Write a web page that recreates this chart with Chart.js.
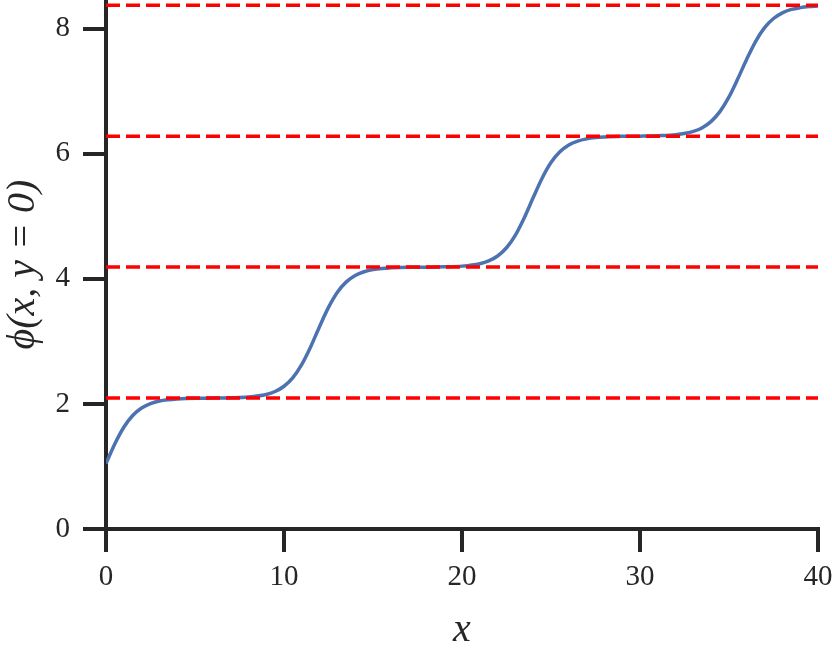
<!DOCTYPE html>
<html>
<head>
<meta charset="utf-8">
<script src="https://cdn.jsdelivr.net/npm/chart.js@4/dist/chart.umd.min.js"></script>
<style>
  html, body { margin: 0; padding: 0; background: #ffffff; }
  #wrap { width: 832px; height: 648px; }
</style>
</head>
<body>
<div id="wrap"><canvas id="c" width="832" height="648"></canvas></div>
<script>
// ---- data ----
const xValues = [0,0.5,1,1.5,2,2.5,3,3.5,4,4.5,5,6,7,8,9,9.5,10,10.5,11,11.5,12,12.5,13,13.5,14,14.5,15,15.5,16,17,18,19,20,21,21.5,22,22.5,23,23.5,24,24.5,25,25.5,26,26.5,27,27.5,28,29,30,31,32,33,33.5,34,34.5,35,35.5,36,36.5,37,37.5,38,38.5,39,39.5,40];
const phiValues = [1.047,1.364,1.628,1.816,1.935,2.006,2.047,2.068,2.080,2.087,2.091,2.094,2.099,2.111,2.152,2.199,2.283,2.421,2.632,2.915,3.239,3.544,3.786,3.952,4.055,4.114,4.148,4.167,4.176,4.186,4.188,4.193,4.204,4.243,4.287,4.366,4.498,4.701,4.979,5.300,5.610,5.860,6.032,6.141,6.204,6.239,6.259,6.270,6.280,6.283,6.289,6.305,6.359,6.418,6.519,6.679,6.910,7.203,7.517,7.800,8.017,8.164,8.255,8.309,8.338,8.355,8.365];
const plateauLevels = [2.094, 4.189, 6.283, 8.378];
const xRange = [0, 40];
const xTicks = [0, 10, 20, 30, 40];
const yTicks = [0, 2, 4, 6, 8];
const yMax = 8.46;
const xTitle = 'x';
const yTitle = 'ϕ(x, y = 0)';

const axisColor = '#262626';
const tickFont = { family: '"Liberation Serif", "DejaVu Serif", serif', size: 29 };
const titleFont = { family: '"Liberation Serif", "DejaVu Serif", serif', size: 40, style: 'italic' };

const datasets = [];
plateauLevels.forEach(function (lv) {
  datasets.push({
    data: [{ x: xRange[0], y: lv }, { x: xRange[1], y: lv }],
    borderColor: '#ff0000',
    borderWidth: 3.5,
    borderDash: [14, 6],
    pointRadius: 0,
    order: 0
  });
});
datasets.push({
  data: xValues.map(function (x, i) { return { x: x, y: phiValues[i] }; }),
  borderColor: '#4c72b0',
  borderWidth: 3.5,
  pointRadius: 0,
  cubicInterpolationMode: 'monotone',
  order: 1
});

new Chart(document.getElementById('c'), {
  type: 'line',
  data: { datasets: datasets },
  options: {
    responsive: false,
    animation: false,
    layout: { padding: { left: 0, right: 14, top: 0, bottom: 0 } },
    plugins: { legend: { display: false }, tooltip: { enabled: false } },
    scales: {
      x: {
        type: 'linear',
        min: xRange[0],
        max: xRange[1],
        afterBuildTicks: function (s) { s.ticks = xTicks.map(function (v) { return { value: v }; }); },
        afterFit: function (s) { s.height = 119; s.paddingLeft = 0; s.paddingRight = 0; },
        grid: { display: true, drawOnChartArea: false, drawTicks: true, tickLength: 23, tickWidth: 4, tickColor: axisColor, color: axisColor, lineWidth: 4 },
        border: { display: true, color: axisColor, width: 4 },
        ticks: { color: axisColor, font: tickFont, padding: 8, maxRotation: 0, autoSkip: false },
        title: { display: true, text: xTitle, color: axisColor, font: titleFont, padding: { top: 0, bottom: -6 } }
      },
      y: {
        type: 'linear',
        min: 0,
        max: yMax,
        afterBuildTicks: function (s) { s.ticks = yTicks.map(function (v) { return { value: v }; }); },
        afterFit: function (s) { s.width = 106; s.paddingTop = 0; s.paddingBottom = 0; },
        grid: { display: true, drawOnChartArea: false, drawTicks: true, tickLength: 23, tickWidth: 4, tickColor: axisColor, color: axisColor, lineWidth: 4 },
        border: { display: true, color: axisColor, width: 4 },
        ticks: { color: axisColor, font: tickFont, padding: 13, autoSkip: false },
        title: { display: true, text: yTitle, color: axisColor, font: titleFont, padding: { top: -1, bottom: 0 } }
      }
    }
  }
});
</script>
</body>
</html>
